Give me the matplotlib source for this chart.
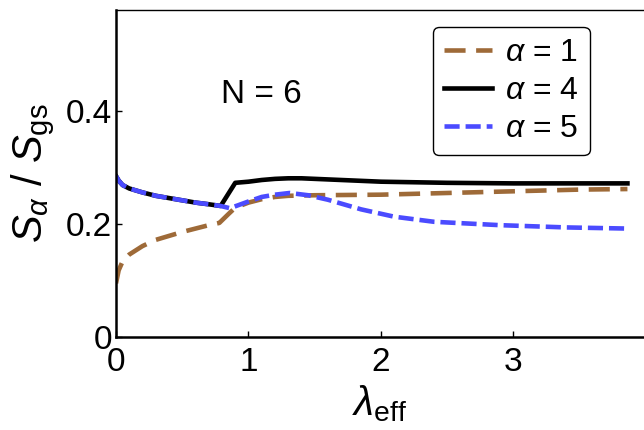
import matplotlib
matplotlib.use("Agg")
import matplotlib.pyplot as plt

# data
x_a1 = [0.0, 0.02, 0.05, 0.1, 0.2, 0.3, 0.4, 0.5, 0.6, 0.7, 0.78, 0.85, 0.9, 1.0, 1.1, 1.2, 1.3, 1.5, 2.0, 2.5, 3.0, 3.5, 3.86]
y_a1 = [0.095, 0.118, 0.134, 0.146, 0.161, 0.172, 0.179, 0.186, 0.192, 0.198, 0.202, 0.218, 0.229, 0.238, 0.244, 0.248, 0.250, 0.251, 0.252, 0.255, 0.258, 0.261, 0.262]

x_a4 = [0.0, 0.02, 0.05, 0.1, 0.2, 0.3, 0.4, 0.5, 0.6, 0.7, 0.79, 0.9, 1.0, 1.1, 1.2, 1.3, 1.4, 1.5, 1.7, 2.0, 2.5, 3.0, 3.5, 3.86]
y_a4 = [0.285, 0.277, 0.269, 0.263, 0.256, 0.250, 0.246, 0.242, 0.238, 0.235, 0.232, 0.273, 0.275, 0.278, 0.280, 0.281, 0.281, 0.280, 0.278, 0.275, 0.273, 0.272, 0.272, 0.272]

x_a5 = [0.0, 0.02, 0.05, 0.1, 0.2, 0.3, 0.4, 0.5, 0.6, 0.7, 0.79, 0.86, 1.0, 1.1, 1.2, 1.31, 1.45, 1.6, 1.85, 2.1, 2.4, 2.9, 3.4, 3.86]
y_a5 = [0.285, 0.277, 0.269, 0.263, 0.256, 0.250, 0.246, 0.242, 0.238, 0.235, 0.232, 0.228, 0.240, 0.248, 0.252, 0.255, 0.251, 0.243, 0.226, 0.213, 0.204, 0.198, 0.194, 0.192]

x_ticks = [0, 1, 2, 3]
y_ticks = [0, 0.2, 0.4]
y_tick_labels = ["0", "0.2", "0.4"]

plt.rcParams["font.family"] = "Liberation Sans"
plt.rcParams["mathtext.fontset"] = "custom"
plt.rcParams["mathtext.rm"] = "Liberation Sans"
plt.rcParams["mathtext.it"] = "Liberation Sans:italic"

fig = plt.figure(figsize=(6.44, 4.30), dpi=100)
ax = fig.add_axes([116 / 644, 93 / 430, 528 / 644, 327 / 430])

ax.plot(x_a1, y_a1, color="#9e6a38", lw=3.3, dashes=(4.6, 2.3), label=r"$\alpha$ = 1")
ax.plot(x_a4, y_a4, color="black", lw=3.3, label=r"$\alpha$ = 4")
ax.plot(x_a5, y_a5, color="#4b4bff", lw=3.3, dashes=(3.3, 1.3), label=r"$\alpha$ = 5")

ax.set_xlim(0, 3.985)
ax.set_ylim(0, 0.579)
ax.set_xticks(x_ticks)
ax.set_yticks(y_ticks)
ax.set_yticklabels(y_tick_labels)
ax.tick_params(direction="in", labelsize=24, width=1, length=4)
ax.tick_params(axis="x", pad=7)
ax.tick_params(axis="y", pad=3)

for s in ["left", "bottom"]:
    ax.spines[s].set_linewidth(1.8)
ax.spines["top"].set_linewidth(1.0)
ax.spines["right"].set_visible(False)

ax.set_xlabel(r"$\lambda_{\rm eff}$", fontsize=29, labelpad=4)
ax.set_ylabel(r"$S_\alpha$ / $S_{\rm gs}$", fontsize=30, labelpad=6)

ax.text(1.094, 0.430, "N = 6", fontsize=24, ha="center", va="center")

leg = ax.legend(loc="upper left", bbox_to_anchor=(433 / 644, 1 - 27 / 430),
                bbox_transform=fig.transFigure, fontsize=23, frameon=True,
                fancybox=True, handlelength=1.5, handletextpad=0.4,
                labelspacing=0.25, borderpad=0.35, borderaxespad=0)
leg.get_frame().set_edgecolor("black")
leg.get_frame().set_linewidth(1.0)
leg.get_frame().set_alpha(1)

plt.savefig("out.png", dpi=100)
